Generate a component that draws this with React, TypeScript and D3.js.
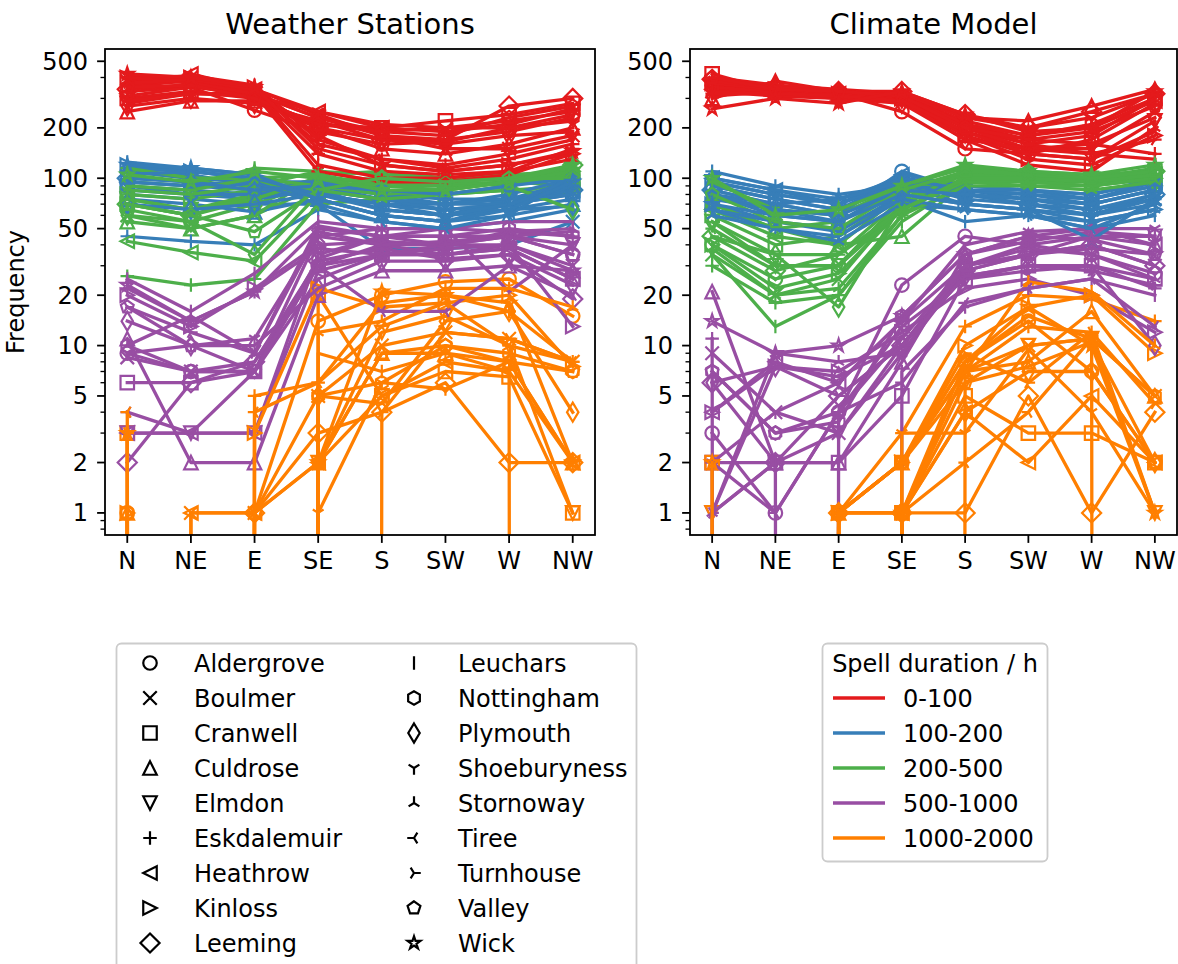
import React from 'react';
import * as d3 from 'd3';

const DIRS = ['N', 'NE', 'E', 'SE', 'S', 'SW', 'W', 'NW'];
const STATIONS = ['Aldergrove', 'Boulmer', 'Cranwell', 'Culdrose', 'Elmdon', 'Eskdalemuir', 'Heathrow', 'Kinloss', 'Leeming',
  'Leuchars', 'Nottingham', 'Plymouth', 'Shoeburyness', 'Stornoway', 'Tiree', 'Turnhouse', 'Valley', 'Wick'];
const MARKERS = ['o', 'x', 's', '^', 'v', '+', '<', '>', 'D', '|', 'h', 'd', '1', '2', '3', '4', 'p', '*'];
const CLASSES = ['0-100', '100-200', '200-500', '500-1000', '1000-2000'];
const CLASS_COLORS = ['#e41a1c', '#377eb8', '#4daf4a', '#984ea3', '#ff7f00'];
const Y_TICKS = [1, 2, 5, 10, 20, 50, 100, 200, 500];

// Weather stations, one row per station, values for N..NW
const obs0_100 = [
  [330, 350, 255, 190, 160, 165, 200, 240], [380, 400, 340, 240, 180, 150, 150, 180],
  [300, 330, 300, 210, 200, 220, 240, 280], [250, 290, 290, 200, 150, 140, 160, 200],
  [280, 320, 320, 230, 190, 200, 220, 250], [360, 380, 330, 140, 110, 105, 110, 150],
  [320, 420, 340, 250, 200, 190, 210, 260], [400, 400, 350, 180, 120, 110, 120, 140],
  [340, 360, 310, 200, 170, 170, 270, 300], [390, 410, 360, 170, 130, 120, 140, 170],
  [310, 350, 320, 230, 180, 170, 190, 230], [270, 300, 280, 220, 170, 160, 180, 190],
  [290, 320, 310, 250, 210, 200, 200, 220], [410, 380, 330, 120, 100, 100, 110, 130],
  [400, 370, 320, 110, 95, 95, 105, 140], [370, 390, 340, 160, 130, 115, 130, 160],
  [350, 360, 300, 210, 190, 180, 230, 270], [420, 400, 350, 150, 120, 110, 120, 145],
];
const obs100_200 = [
  [110, 105, 90, 85, 75, 70, 75, 90], [80, 75, 70, 70, 38, 38, 40, 55],
  [90, 85, 80, 80, 70, 65, 70, 80], [75, 70, 63, 75, 60, 55, 60, 70],
  [85, 80, 75, 85, 65, 60, 65, 75], [45, 42, 40, 65, 55, 50, 55, 65],
  [95, 90, 85, 90, 80, 70, 75, 85], [120, 110, 100, 80, 70, 70, 80, 100],
  [100, 95, 90, 85, 75, 65, 70, 85], [125, 115, 105, 85, 65, 60, 75, 95],
  [90, 80, 80, 90, 75, 70, 70, 80], [70, 65, 70, 80, 70, 60, 65, 68],
  [95, 90, 95, 95, 80, 75, 75, 80], [115, 110, 100, 75, 60, 55, 70, 100],
  [110, 100, 95, 70, 55, 50, 60, 105], [105, 110, 100, 80, 65, 60, 70, 90],
  [100, 95, 85, 90, 85, 80, 90, 100], [120, 115, 105, 75, 60, 55, 65, 95],
];
const obs200_500 = [
  [65, 55, 70, 95, 90, 90, 95, 105], [60, 50, 60, 90, 80, 80, 85, 90],
  [70, 60, 75, 100, 95, 90, 95, 100], [55, 50, 60, 105, 110, 100, 100, 95],
  [75, 65, 80, 100, 95, 95, 100, 105], [26, 23, 25, 70, 75, 80, 85, 80],
  [42, 36, 32, 80, 90, 90, 95, 90], [80, 75, 85, 95, 85, 80, 90, 110],
  [70, 60, 80, 100, 95, 95, 100, 120], [95, 90, 115, 110, 95, 90, 95, 115],
  [75, 65, 75, 100, 95, 95, 100, 105], [60, 55, 35, 95, 100, 95, 90, 65],
  [85, 80, 90, 110, 105, 100, 105, 110], [110, 100, 95, 85, 75, 80, 90, 120],
  [115, 100, 100, 90, 80, 85, 95, 115], [90, 85, 100, 105, 90, 85, 95, 110],
  [70, 60, 48, 85, 100, 95, 100, 100], [105, 95, 110, 100, 85, 85, 95, 120],
];
const obs500_1000 = [
  [9, 7, 8, 30, 40, 40, 45, 35], [8.5, 7, 7, 45, 40, 35, 40, 30],
  [6, 6, 7, 25, 35, 35, 38, 25], [11, 2, 2, 20, 28, 28, 30, 28],
  [3, 3, 3, 35, 45, 45, 45, 40], [22, 14, 21, 50, 45, 40, 48, 45],
  [3, 3, 3, 28, 35, 35, 38, 25], [20, 13, 22, 40, 42, 40, 40, 13],
  [2, 6, 8, 32, 38, 33, 35, 19], [25, 16, 27, 55, 50, 50, 55, 55],
  [10, 7, 7, 33, 45, 45, 50, 45], [14, 10, 10, 22, 32, 32, 35, 23],
  [9, 10, 11, 45, 50, 50, 21, 40], [10, 15, 9, 52, 45, 50, 48, 50],
  [4, 3, 7, 30, 16, 16, 30, 20], [17, 12, 9, 48, 40, 42, 45, 48],
  [17, 10, 7, 30, 35, 40, 45, 35], [23, 14, 21, 38, 35, 38, 40, 28],
];
const obs1000_2000 = [
  [1, 0, 1, 14, 20, 24, 25, 15], [0, 1, 1, 5, 10, 12, 11, 8],
  [3, 0, 0, 20, 5, 7, 6.5, 1], [1, 0, 0, 2, 9, 9, 8, 2],
  [0, 0, 0, 2, 12, 15, 10, 1], [0, 0, 5, 6, 18, 20, 16, 8],
  [0, 1, 1, 2, 5, 8, 7, 2], [1, 0, 3, 22, 17, 18, 20, 7.5],
  [0, 0, 1, 3, 4, 6, 2, 2], [0, 0, 0, 9, 7, 9, 7, 0],
  [1, 0, 0, 5, 6, 10, 9, 7], [0, 0, 0, 5, 4.5, 14, 16, 4],
  [0, 0, 0, 1, 6, 5.5, 8, 2], [0, 0, 0, 12, 14, 22, 22, 17],
  [4, 0, 4, 6, 13, 18, 10, 8], [3, 0, 0, 0, 4, 12, 11, 8],
  [0, 0, 1, 2, 9, 10, 8, 7], [3, 0, 0, 2, 21, 20, 18, 2],
];

// Climate model
const mod0_100 = [
  [360, 330, 320, 250, 150, 140, 170, 280], [330, 340, 310, 300, 190, 150, 150, 250],
  [420, 330, 310, 300, 200, 160, 180, 300], [300, 380, 330, 320, 230, 220, 270, 340],
  [350, 320, 310, 290, 180, 140, 130, 220], [380, 320, 300, 300, 210, 170, 160, 140],
  [340, 330, 320, 310, 220, 180, 200, 290], [370, 340, 320, 300, 180, 130, 120, 180],
  [390, 350, 330, 330, 240, 200, 250, 320], [400, 360, 340, 320, 200, 150, 140, 130],
  [350, 330, 320, 310, 210, 180, 210, 300], [310, 330, 300, 280, 170, 150, 160, 230],
  [370, 340, 330, 320, 230, 200, 230, 320], [330, 310, 300, 290, 170, 120, 110, 200],
  [320, 320, 310, 290, 190, 140, 130, 190], [380, 350, 330, 310, 210, 160, 140, 170],
  [400, 340, 330, 310, 200, 170, 190, 270], [260, 300, 280, 330, 240, 190, 200, 330],
];
const mod100_200 = [
  [85, 70, 60, 110, 85, 75, 70, 85], [75, 65, 55, 85, 80, 75, 65, 75],
  [90, 75, 65, 95, 85, 80, 75, 90], [80, 70, 75, 100, 90, 85, 80, 100],
  [95, 80, 70, 95, 80, 70, 60, 80], [110, 90, 80, 90, 70, 65, 60, 70],
  [100, 85, 70, 105, 90, 85, 75, 95], [70, 55, 48, 80, 70, 65, 55, 65],
  [85, 70, 60, 90, 80, 70, 65, 80], [65, 50, 45, 75, 55, 60, 50, 60],
  [90, 75, 65, 100, 85, 80, 75, 90], [80, 60, 55, 90, 85, 80, 70, 85],
  [95, 80, 70, 100, 85, 85, 80, 95], [60, 50, 42, 70, 65, 60, 55, 65],
  [65, 55, 50, 75, 65, 60, 50, 70], [100, 85, 75, 95, 75, 70, 60, 75],
  [80, 65, 60, 85, 80, 75, 70, 85], [70, 60, 55, 80, 70, 65, 43, 75],
];
const mod200_500 = [
  [40, 25, 30, 75, 110, 105, 100, 105], [35, 20, 25, 70, 100, 100, 95, 100],
  [60, 40, 45, 80, 105, 100, 100, 110], [70, 50, 40, 45, 95, 100, 95, 100],
  [55, 30, 30, 70, 100, 95, 95, 105], [30, 18, 20, 60, 110, 105, 100, 115],
  [65, 45, 40, 80, 105, 100, 95, 105], [40, 22, 27, 65, 100, 95, 90, 100],
  [45, 28, 35, 75, 105, 100, 100, 110], [35, 13, 20, 55, 95, 95, 90, 100],
  [70, 50, 55, 85, 105, 105, 100, 105], [55, 35, 17, 70, 110, 105, 100, 95],
  [95, 65, 60, 90, 115, 110, 105, 110], [38, 20, 22, 60, 90, 90, 85, 95],
  [50, 30, 30, 65, 95, 90, 90, 100], [45, 35, 35, 65, 100, 100, 95, 105],
  [80, 55, 50, 85, 110, 110, 100, 110], [100, 60, 65, 90, 120, 110, 105, 120],
];
const mod500_1000 = [
  [3, 1, 4, 23, 45, 40, 35, 27], [9, 4, 3, 10, 30, 35, 40, 30],
  [2, 2, 2, 5, 25, 30, 30, 25], [21, 2, 2, 8, 35, 45, 50, 40],
  [1, 2, 3, 9, 28, 35, 45, 45], [11, 0, 4, 13, 25, 28, 30, 22],
  [4, 8, 6, 14, 30, 40, 45, 40], [4, 7.5, 7, 12, 22, 25, 20, 12],
  [6, 2, 5, 10, 28, 35, 40, 30], [1, 2, 0, 7, 17, 22, 25, 20],
  [7, 3, 3.5, 15, 35, 42, 48, 45], [6, 7.5, 6.5, 10, 26, 30, 30, 10],
  [2, 4, 6, 14, 40, 48, 50, 50], [1, 9, 8, 9, 30, 38, 35, 25],
  [2, 1, 4, 6, 18, 22, 25, 13], [1, 7.5, 5, 10, 26, 30, 28, 23],
  [7, 3, 4, 11, 30, 35, 38, 35], [14, 9, 10, 15, 35, 45, 43, 35],
];
const mod1000_2000 = [
  [0, 0, 1, 2, 8, 14, 7, 2], [0, 0, 0, 1, 7, 10, 11, 5],
  [2, 0, 0, 1, 5, 3, 3, 2], [0, 0, 1, 2, 7, 8, 16, 5],
  [1, 0, 1, 2, 6, 10, 11, 1], [0, 0, 1, 3, 13, 20, 19, 14],
  [0, 0, 0, 1, 4, 2, 5, 2], [0, 0, 1, 2, 10, 17, 20, 9],
  [0, 0, 1, 1, 1, 5, 1, 4], [0, 0, 0, 0, 7, 13, 12, 1],
  [0, 0, 1, 2, 8, 15, 11, 5], [0, 0, 1, 1, 4, 7, 7, 2],
  [0, 0, 0, 3, 3, 9.5, 4, 1], [0, 0, 0, 2, 7, 24, 21, 10],
  [0, 0, 0, 1, 2, 4, 11, 0], [0, 0, 1, 2, 9, 6, 12, 4.5],
  [0, 0, 1, 1, 6, 7.5, 10.5, 2], [2, 0, 0, 1, 8, 17, 10, 1],
];

const OBS = [obs0_100, obs100_200, obs200_500, obs500_1000, obs1000_2000];
const MOD = [mod0_100, mod100_200, mod200_500, mod500_1000, mod1000_2000];

const FONT = 'DejaVu Sans, sans-serif';
const FS = 24;
const MS = 13.5;

function markerPath(m: string, s: number): string {
  const h = s / 2;
  const poly = (pts: number[][]) => 'M' + pts.map(p => `${p[0].toFixed(2)},${p[1].toFixed(2)}`).join('L') + 'Z';
  const reg = (n: number, r: number) =>
    d3.range(n).map(k => {
      const a = (90 + (360 / n) * k) * Math.PI / 180;
      return [r * Math.cos(a), -r * Math.sin(a)];
    });
  const d = s * Math.SQRT1_2;
  switch (m) {
    case 'o': return `M${h},0A${h},${h} 0 1,1 ${-h},0A${h},${h} 0 1,1 ${h},0Z`;
    case 'x': return `M${-h},${-h}L${h},${h}M${-h},${h}L${h},${-h}`;
    case 's': return poly([[-h, -h], [h, -h], [h, h], [-h, h]]);
    case '^': return poly([[0, -h], [-h, h], [h, h]]);
    case 'v': return poly([[0, h], [-h, -h], [h, -h]]);
    case '+': return `M${-h},0L${h},0M0,${-h}L0,${h}`;
    case '<': return poly([[-h, 0], [h, -h], [h, h]]);
    case '>': return poly([[h, 0], [-h, -h], [-h, h]]);
    case 'D': return poly([[0, -d], [d, 0], [0, d], [-d, 0]]);
    case '|': return `M0,${-h}L0,${h}`;
    case 'h': return poly(reg(6, h));
    case 'd': return poly([[0, -d], [0.6 * d, 0], [0, d], [-0.6 * d, 0]]);
    case '1': return `M0,0L0,${h}M0,0L${0.8 * h},${-0.5 * h}M0,0L${-0.8 * h},${-0.5 * h}`;
    case '2': return `M0,0L0,${-h}M0,0L${0.8 * h},${0.5 * h}M0,0L${-0.8 * h},${0.5 * h}`;
    case '3': return `M0,0L${-h},0M0,0L${0.5 * h},${0.8 * h}M0,0L${0.5 * h},${-0.8 * h}`;
    case '4': return `M0,0L${h},0M0,0L${-0.5 * h},${0.8 * h}M0,0L${-0.5 * h},${-0.8 * h}`;
    case 'p': return poly(reg(5, h));
    case '*': {
      const pts: number[][] = [];
      for (let k = 0; k < 10; k++) {
        const r = k % 2 === 0 ? h : h * 0.381966;
        const a = (90 + 36 * k) * Math.PI / 180;
        pts.push([r * Math.cos(a), -r * Math.sin(a)]);
      }
      return poly(pts);
    }
  }
  return '';
}

const TOP = 49;
const BOTTOM = 535;

function Panel({ id, x0, x1, title, data, ylabel }: { id: string, x0: number, x1: number, title: string, data: number[][][], ylabel: boolean }) {
  const x = d3.scaleLinear().domain([-0.35, 7.35]).range([x0, x1]);
  const y = d3.scaleLog().domain([0.738, 592]).range([BOTTOM, TOP]);
  const yv = (v: number) => y(v > 0 ? v : 1e-300);
  const line = d3.line<number>().x((_, i) => x(i)).y(v => yv(v));

  const minor: number[] = [];
  [0.1, 1, 10, 100].forEach(dec => d3.range(2, 10).forEach(m => {
    const v = m * dec;
    if (v >= 0.738 && v <= 592 && !Y_TICKS.some(t => Math.abs(t - v) < 1e-9)) minor.push(v);
  }));

  const items: JSX.Element[] = [];
  STATIONS.forEach((st, si) => {
    CLASSES.forEach((cl, ci) => {
      const vals = data[ci][si];
      const col = CLASS_COLORS[ci];
      const mp = markerPath(MARKERS[si], MS);
      items.push(
        <g key={`${si}-${ci}`}>
          <path d={line(vals) || ''} fill="none" stroke={col} strokeWidth={3.3} strokeLinejoin="round" strokeLinecap="square" />
          {vals.map((v, i) => v > 0 ? (
            <path key={i} d={mp} transform={`translate(${x(i)},${yv(v)})`} fill="none" stroke={col} strokeWidth={2.2} />
          ) : null)}
        </g>
      );
    });
  });

  return (
    <g>
      <defs>
        <clipPath id={id}>
          <rect x={x0} y={TOP} width={x1 - x0} height={BOTTOM - TOP} />
        </clipPath>
      </defs>
      <text x={(x0 + x1) / 2} y={34} textAnchor="middle" fontSize={29} fontFamily={FONT}>{title}</text>
      <g clipPath={`url(#${id})`}>{items}</g>
      <rect x={x0} y={TOP} width={x1 - x0} height={BOTTOM - TOP} fill="none" stroke="#000" strokeWidth={1.8} />
      {minor.map(v => (
        <line key={v} x1={x0} x2={x0 - 4.5} y1={y(v)} y2={y(v)} stroke="#000" strokeWidth={1.35} />
      ))}
      {Y_TICKS.map(v => (
        <g key={v}>
          <line x1={x0} x2={x0 - 7.9} y1={y(v)} y2={y(v)} stroke="#000" strokeWidth={1.8} />
          <text x={x0 - 17} y={y(v) + 8.5} textAnchor="end" fontSize={FS} fontFamily={FONT}>{v}</text>
        </g>
      ))}
      {DIRS.map((d, i) => (
        <g key={d}>
          <line x1={x(i)} x2={x(i)} y1={BOTTOM} y2={BOTTOM + 7.9} stroke="#000" strokeWidth={1.8} />
          <text x={x(i)} y={568.5} textAnchor="middle" fontSize={FS} fontFamily={FONT}>{d}</text>
        </g>
      ))}
      {ylabel && (
        <text transform={`translate(24,${(TOP + BOTTOM) / 2}) rotate(-90)`} textAnchor="middle" fontSize={FS} fontFamily={FONT}>Frequency</text>
      )}
    </g>
  );
}

export default function App() {
  const rowY = (i: number) => 663 + 35 * i;
  return (
    <svg width={1178} height={964} style={{ position: 'absolute', left: 0, top: 0, background: '#fff' }}>
      <rect width={1178} height={964} fill="#fff" />
      <Panel id="clipObs" x0={105} x1={595} title="Weather Stations" data={OBS} ylabel={true} />
      <Panel id="clipMod" x0={690} x1={1177} title="Climate Model" data={MOD} ylabel={false} />

      <rect x={116.5} y={643.5} width={520} height={340} rx={5} fill="#fff" fillOpacity={0.8} stroke="#cccccc" strokeWidth={1.8} />
      {STATIONS.map((st, i) => {
        const col = i < 9 ? 0 : 1;
        const r = i % 9;
        const mx = col === 0 ? 150 : 414;
        const tx = col === 0 ? 194 : 458;
        return (
          <g key={st}>
            <path d={markerPath(MARKERS[i], MS)} transform={`translate(${mx},${rowY(r)})`} fill="none" stroke="#000" strokeWidth={2.2} />
            <text x={tx} y={rowY(r) + 8.6} fontSize={FS} fontFamily={FONT}>{st}</text>
          </g>
        );
      })}

      <rect x={822.5} y={643.5} width={225} height={218} rx={5} fill="#fff" fillOpacity={0.8} stroke="#cccccc" strokeWidth={1.8} />
      <text x={935} y={671.5} textAnchor="middle" fontSize={FS} fontFamily={FONT}>Spell duration / h</text>
      {CLASSES.map((cl, i) => (
        <g key={cl}>
          <line x1={833} x2={885} y1={rowY(i + 1)} y2={rowY(i + 1)} stroke={CLASS_COLORS[i]} strokeWidth={3.3} />
          <text x={903} y={rowY(i + 1) + 8.6} fontSize={FS} fontFamily={FONT}>{cl}</text>
        </g>
      ))}
    </svg>
  );
}
